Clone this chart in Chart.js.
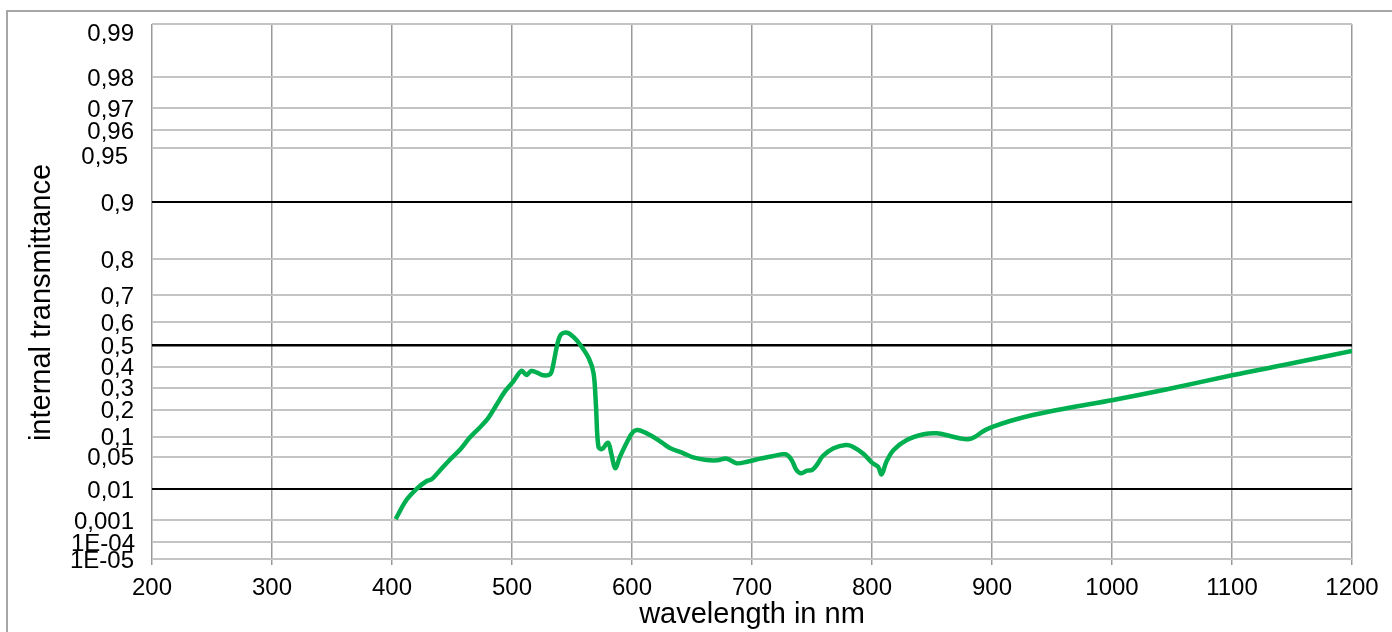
<!DOCTYPE html>
<html><head><meta charset="utf-8">
<script src="https://cdn.jsdelivr.net/npm/chart.js@4.4.1/dist/chart.umd.min.js"></script>
<style>
html,body{margin:0;padding:0;background:#fff;overflow:hidden;width:1392px;height:632px;}
#frame{position:absolute;left:6px;top:10px;width:1500px;height:800px;border:2px solid #a6a6a6;box-sizing:border-box;}
#c{position:absolute;left:0;top:0;}
</style></head><body>
<div id="frame"></div>
<canvas id="c" width="1392" height="632"></canvas>
<script>
// ---- data ----
const wavelengths = [403,412,421,429,433,439,448,457,465,473,480,487,494,501,508,512,516,521,526,532,534,538,541,546,551,557,564,568,570,572,575,580,583,586,590,596,601,605,615,625,632,643,651,662,671,679,687,696,707,718,728,733,737,741,746,750,754,759,768,778,784,793,800,805,808,812,818,829,843,854,865,873,880,886,893,901,915,934,962,1001,1046,1101,1143,1200];
const transmittance = [0.0011,0.0050,0.0107,0.0162,0.0177,0.0261,0.0439,0.0661,0.0983,0.1296,0.1643,0.2196,0.2803,0.3279,0.3808,0.3601,0.3796,0.3713,0.3587,0.3650,0.4005,0.5104,0.5499,0.5569,0.5397,0.5027,0.4406,0.3684,0.2122,0.0725,0.0668,0.0829,0.0535,0.0306,0.0501,0.0857,0.1159,0.1217,0.1054,0.0830,0.0686,0.0571,0.0489,0.0439,0.0433,0.0463,0.0382,0.0408,0.0463,0.0515,0.0550,0.0439,0.0283,0.0241,0.0274,0.0283,0.0355,0.0515,0.0686,0.0768,0.0725,0.0556,0.0392,0.0329,0.0229,0.0408,0.0645,0.0905,0.1076,0.1108,0.1023,0.0954,0.0925,0.1002,0.1184,0.1330,0.1539,0.1775,0.2053,0.2418,0.2914,0.3601,0.4085,0.4749];
const xTicks = [200,300,400,500,600,700,800,900,1000,1100,1200];
const yTickValues = [0.99,0.98,0.97,0.96,0.95,0.9,0.8,0.7,0.6,0.5,0.4,0.3,0.2,0.1,0.05,0.01,0.001,1e-4,1e-5];
const yTickLabels = ['0,99','0,98','0,97','0,96','0,95','0,9','0,8','0,7','0,6','0,5','0,4','0,3','0,2','0,1','0,05','0,01','0,001','1E-04','1E-05'];
const referenceLines = [0.9, 0.5, 0.01];
const xTitle = 'wavelength in nm';
const yTitle = 'internal transmittance';

// double-log transmittance axis: log10(-log10(T))
function toAxis(t){ return Math.log10(-Math.log10(t)); }

const FONT = '"Liberation Sans", Arial, sans-serif';
const labelTweaks = {'0,99':{dy:8}, '0,95':{dy:8,dx:-6}, '1E-04':{dx:1}};

const yTextPlugin = {
  id:'yText',
  afterDraw(chart){
    const {ctx} = chart; const y = chart.scales.y; const ca = chart.chartArea;
    ctx.save();
    ctx.font = '24px ' + FONT;
    ctx.fillStyle = '#000'; ctx.textAlign = 'right'; ctx.textBaseline = 'middle';
    yTickValues.forEach((v,i)=>{
      const t = labelTweaks[yTickLabels[i]] || {};
      ctx.fillText(yTickLabels[i], 134 + (t.dx||0), y.getPixelForValue(toAxis(v)) + 2 + (t.dy||0));
    });
    ctx.translate(42, (ca.top + ca.bottom)/2 + 11);
    ctx.rotate(-Math.PI/2);
    ctx.textAlign = 'center';
    ctx.font = '29px ' + FONT;
    ctx.fillText(yTitle, 0, 0);
    ctx.restore();
  }
};

const points = wavelengths.map((w,i)=>({x:w, y:toAxis(transmittance[i])}));

new Chart(document.getElementById('c'), {
  type:'line',
  data:{datasets:[{data:points, borderColor:'#00b050', borderWidth:4.5, pointRadius:0, tension:0.35, fill:false}]},
  options:{
    responsive:false, animation:false, devicePixelRatio:1,
    layout:{padding:{left:0,right:40,top:24,bottom:0}},
    plugins:{legend:{display:false}, tooltip:{enabled:false}},
    scales:{
      x:{type:'linear', min:200, max:1200,
        afterBuildTicks:s=>{ s.ticks = xTicks.map(v=>({value:v})); },
        afterFit:s=>{ s.height = 73; },
        ticks:{font:{family:FONT,size:24}, color:'#000', padding:9, maxRotation:0, autoSkip:false, callback:v=>String(v)},
        grid:{color:'#9a9a9a', lineWidth:1.5, tickLength:6, drawTicks:true},
        border:{display:false},
        title:{display:true, text:xTitle, color:'#000', font:{family:FONT,size:29}, padding:{top:0,bottom:0}}
      },
      y:{type:'linear', reverse:true,
        min:toAxis(yTickValues[0]), max:toAxis(yTickValues[yTickValues.length-1]),
        afterBuildTicks:s=>{ s.ticks = yTickValues.map(v=>({value:toAxis(v)})); },
        afterFit:s=>{ s.width = 152; },
        ticks:{display:false},
        grid:{drawTicks:false,
          color:c=> referenceLines.includes(yTickValues[c.index]) ? '#000' : '#c4c4c4',
          lineWidth:c=> yTickValues[c.index]===0.5 ? 2.5 : 2},
        border:{display:false}
      }
    }
  },
  plugins:[yTextPlugin]
});
</script>
</body></html>
